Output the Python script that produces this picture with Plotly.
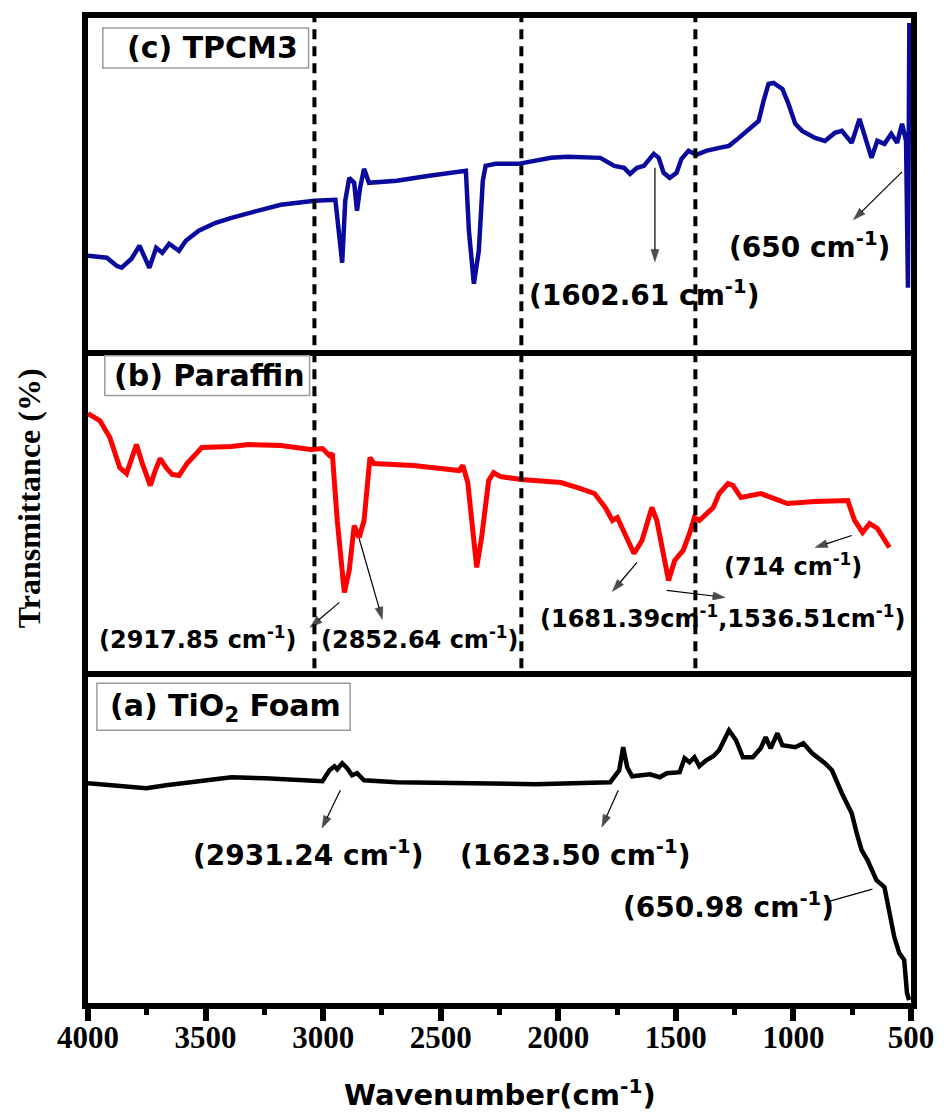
import plotly.graph_objects as go
from plotly.subplots import make_subplots

# ---------------- data (wavenumber in cm-1, transmittance in arbitrary units) ----------------
TPCM3_WN = [4000, 3920, 3878, 3857, 3815, 3781, 3739, 3710, 3684, 3655,
            3613, 3584, 3529, 3457, 3390, 3318, 3247, 3180, 3108, 3037,
            2948, 2931, 2919, 2906, 2889, 2868, 2856, 2843, 2826, 2805,
            2687, 2549, 2406, 2393, 2380, 2359, 2338, 2321, 2309, 2267,
            2170, 2031, 1960, 1888, 1821, 1762, 1720, 1695, 1665, 1636,
            1594, 1573, 1552, 1526, 1497, 1476, 1446, 1413, 1371, 1316,
            1274, 1232, 1148, 1127, 1106, 1085, 1047, 1021, 992, 963,
            908, 866, 824, 794, 752, 719, 698, 668, 643, 613,
            584, 559, 538, 521, 513, 507]
TPCM3_T = [94, 92, 84, 82, 91, 104, 82, 102, 97, 106,
           99, 109, 119, 127, 132, 137, 141, 145, 147, 149,
           150, 116, 87, 149, 172, 167, 139, 162, 181, 167,
           169, 174, 178, 179, 119, 66, 99, 169, 184, 186,
           186, 192, 193, 193, 192, 184, 182, 176, 182, 184,
           196, 192, 177, 172, 177, 191, 199, 195, 199, 202,
           204, 212, 229, 249, 266, 267, 261, 246, 226, 219,
           212, 209, 217, 219, 207, 231, 214, 192, 209, 206,
           216, 207, 226, 209, 62, 327]

PARAFFIN_WN = [4000, 3950, 3907, 3865, 3836, 3815, 3794, 3769, 3735, 3714,
               3693, 3668, 3642, 3613, 3579, 3516, 3390, 3318, 3180, 3053,
               3003, 2973, 2961, 2940, 2910, 2889, 2868, 2847, 2826, 2801,
               2784, 2616, 2422, 2406, 2385, 2368, 2347, 2326, 2296, 2275,
               2246, 2157, 1989, 1918, 1846, 1800, 1770, 1749, 1720, 1678,
               1644, 1602, 1581, 1552, 1531, 1505, 1469, 1442, 1421, 1400,
               1341, 1316, 1278, 1257, 1223, 1139, 1026, 908, 769, 740,
               706, 676, 643, 592]
PARAFFIN_T = [264, 257, 240, 210, 204, 217, 233, 214, 192, 207,
              219, 210, 203, 202, 214, 230, 231, 233, 232, 228,
              229, 222, 224, 157, 85, 107, 152, 140, 157, 220,
              214, 212, 207, 212, 195, 157, 110, 140, 197, 205,
              201, 198, 195, 190, 184, 170, 157, 160, 144, 124,
              137, 170, 157, 124, 97, 117, 127, 144, 160, 157,
              170, 184, 194, 192, 180, 184, 174, 176, 177, 157,
              145, 154, 149, 130]

TIO2_WN = [4000, 3878, 3752, 3668, 3529, 3390, 3247, 3108, 3003, 2973,
           2952, 2940, 2919, 2898, 2877, 2856, 2826, 2687, 2380, 2098,
           1779, 1741, 1724, 1707, 1686, 1610, 1568, 1539, 1484, 1463,
           1442, 1421, 1400, 1371, 1341, 1316, 1274, 1244, 1215, 1173,
           1139, 1118, 1097, 1068, 1047, 992, 958, 920, 866, 836,
           794, 752, 731, 710, 685, 647, 613, 592, 571, 550,
           529, 517, 508]
TIO2_T = [220, 217, 215, 218, 222, 226, 225, 223, 222, 233,
          237, 234, 240, 235, 228, 230, 223, 221, 220, 219,
          221, 233, 256, 236, 227, 229, 226, 230, 231, 245,
          241, 246, 237, 243, 247, 253, 273, 263, 246, 246,
          255, 266, 255, 270, 258, 256, 260, 250, 240, 233,
          210, 190, 170, 153, 143, 123, 116, 90, 66, 50,
          43, 10, 3]

PANEL_LABELS = ["(c) TPCM3", "(b) Paraffin", "(a) TiO<sub>2</sub> Foam"]
TICK_VALUES = [4000, 3500, 3000, 2500, 2000, 1500, 1000, 500]
TICK_LABELS = ["4000", "3500", "3000", "2500", "2000", "1500", "1000", "500"]
DASH_WN = [3037, 2157, 1417]

# peak labels: (row, text, x, y)
PEAK_LABELS = [
    (1, "(1602.61 cm<sup>-1</sup>)", 1636, 56),
    (1, "(650 cm<sup>-1</sup>)", 933, 104),
    (2, "(2917.85 cm<sup>-1</sup>)", 3533, 39),
    (2, "(2852.64 cm<sup>-1</sup>)", 2586, 39),
    (2, "(1681.39cm<sup>-1</sup>,1536.51cm<sup>-1</sup>)", 1303, 60),
    (2, "(714 cm<sup>-1</sup>)", 1000, 112),
    (3, "(2931.24 cm<sup>-1</sup>)", 3066, 150),
    (3, "(1623.50 cm<sup>-1</sup>)", 1930, 150),
    (3, "(650.98 cm<sup>-1</sup>)", 1278, 98),
]
# arrows: (row, tail_x, tail_y, head_x, head_y, has_head)
ARROWS = [
    (1, 1589, 182, 1589, 88, True),
    (1, 538, 178, 745, 130, True),
    (2, 2931, 75, 3056, 50, True),
    (2, 2847, 139, 2748, 58, True),
    (2, 1665, 115, 1770, 86, True),
    (2, 1539, 87, 1290, 80, True),
    (2, 752, 142, 908, 130, True),
    (3, 2927, 213, 3005, 175, True),
    (3, 1745, 213, 1815, 176, True),
    (3, 664, 114, 845, 102, False),
]

# ---------------- figure ----------------
fig = make_subplots(rows=3, cols=1, shared_xaxes=True, vertical_spacing=0)

fig.add_trace(go.Scatter(x=TPCM3_WN, y=TPCM3_T, mode="lines",
                         line=dict(color="#0a0a9c", width=4.5), showlegend=False), row=1, col=1)
fig.add_trace(go.Scatter(x=PARAFFIN_WN, y=PARAFFIN_T, mode="lines",
                         line=dict(color="#ff0000", width=5), showlegend=False), row=2, col=1)
fig.add_trace(go.Scatter(x=TIO2_WN, y=TIO2_T, mode="lines",
                         line=dict(color="#000000", width=4.5), showlegend=False), row=3, col=1)

# arrows drawn as thin lines with an arrow marker at the head
for row, tx, ty, hx, hy, head in ARROWS:
    fig.add_trace(go.Scatter(x=[tx, hx], y=[ty, hy], mode="lines+markers",
                             line=dict(color="black", width=1.2),
                             marker=dict(symbol="arrow", angleref="previous",
                                         size=[0, 13 if head else 0], color="black",
                                         line=dict(width=0.5, color="black")),
                             showlegend=False, hoverinfo="skip"), row=row, col=1)

L, R, T, B = 88, 26, 17, 109
W, H = 946, 1112
PH = H - T - B  # 986
PW = W - L - R  # 832


def px_x(px):
    return (px - L) / PW


def px_y(py):
    return (H - B - py) / PH


d_top = px_y(349)
d_mid = px_y(677)

fig.update_layout(
    width=W, height=H,
    margin=dict(l=L, r=R, t=T, b=B),
    paper_bgcolor="white", plot_bgcolor="white",
    yaxis=dict(domain=[d_top, 1], range=[0, 332]),
    yaxis2=dict(domain=[d_mid, d_top], range=[0, 328]),
    yaxis3=dict(domain=[0, d_mid], range=[0, 326]),
)

fig.update_yaxes(showline=True, mirror=True, linewidth=6, linecolor="black",
                 ticks="", showticklabels=False, showgrid=False, zeroline=False, fixedrange=True)
fig.update_xaxes(range=[4000, 500], showgrid=False, zeroline=False, linecolor="black", linewidth=6)
fig.update_xaxes(showline=True, mirror=True, ticks="", showticklabels=False, row=1, col=1)
fig.update_xaxes(showline=False, ticks="", showticklabels=False, row=2, col=1)
fig.update_xaxes(showline=True, mirror=True, ticks="outside", ticklen=12, tickwidth=6,
                 tickcolor="black", tickmode="array", tickvals=TICK_VALUES, ticktext=TICK_LABELS,
                 showticklabels=True, ticklabelstandoff=-10,
                 tickfont=dict(family="Liberation Serif, Times New Roman, serif", size=31,
                               color="black", weight="bold"),
                 minor=dict(ticks="outside", ticklen=6, tickwidth=5, tickcolor="black",
                            tickmode="linear", tick0=750, dtick=500),
                 row=3, col=1)

# dashed guide lines
shapes = []
for wn in DASH_WN:
    shapes.append(dict(type="line", xref="x3", yref="paper", x0=wn, x1=wn,
                       y0=px_y(668), y1=1, line=dict(color="black", width=4, dash="10px,7px"),
                       layer="above"))

# panel label boxes
boxes = [(103, 311, 27, 67), (105, 312, 355, 395), (97, 353, 683, 730)]
label_pos = [(213.5, 47), (211, 375), (227.5, 707)]
for (x0, x1, y0, y1) in boxes:
    shapes.append(dict(type="rect", xref="paper", yref="paper",
                       x0=px_x(x0), x1=px_x(x1), y0=px_y(y1), y1=px_y(y0),
                       line=dict(color="#9a9a9a", width=1.5), fillcolor="rgba(0,0,0,0)"))
fig.update_layout(shapes=shapes)

annotations = []
for text, (cx, cy) in zip(PANEL_LABELS, label_pos):
    annotations.append(dict(text=text, xref="paper", yref="paper", x=px_x(cx), y=px_y(cy),
                            showarrow=False, xanchor="center", yanchor="middle",
                            font=dict(family="DejaVu Sans", size=30, color="black", weight="bold")))

for row, text, x, y in PEAK_LABELS:
    sz = 24 if row == 2 else 28
    suffix = str(row) if row > 1 else ""
    annotations.append(dict(text=text, xref="x" + suffix, yref="y" + suffix,
                            x=x, y=y, showarrow=False, xanchor="center", yanchor="middle",
                            font=dict(family="DejaVu Sans", size=sz, color="black", weight="bold")))

# axis titles
annotations.append(dict(text="Wavenumber(cm<sup>-1</sup>)", xref="paper", yref="paper",
                        x=px_x(505), y=px_y(1093), showarrow=False, xanchor="center", yanchor="middle",
                        font=dict(family="DejaVu Sans", size=29, color="black", weight="bold")))
annotations.append(dict(text="Transmittance (%)", xref="paper", yref="paper",
                        x=px_x(28), y=px_y(498), showarrow=False, xanchor="center", yanchor="middle",
                        textangle=-90,
                        font=dict(family="Liberation Serif, Times New Roman, serif", size=32,
                                  color="black", weight="bold")))
fig.update_layout(annotations=annotations)

fig.write_html("out.html")
